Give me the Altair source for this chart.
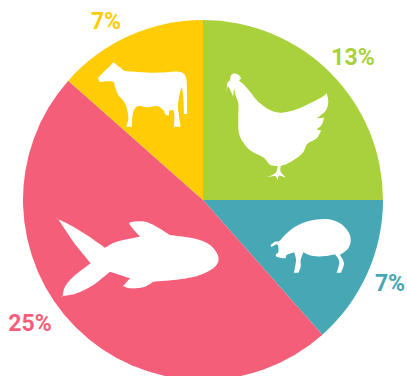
import altair as alt
import pandas as pd

# Share of each protein source, clockwise from twelve o'clock
animals = ["Chicken", "Pig", "Fish", "Cow"]
shares = [13, 7, 25, 7]
colors = ["#A9D13B", "#47A8B5", "#F45E78", "#FFCC05"]

W, H = 407, 376
CENTER = (203, 200)
RADIUS = 180


def outline(points, ox, oy):
    """Closed Catmull-Rom SVG path through a traced outline; a repeated point stays a sharp corner."""
    pts = [(ox + x / 3, oy + y / 3) for x, y in points]
    n = len(pts)
    parts = [f"M{pts[0][0]:.1f},{pts[0][1]:.1f}"]
    for i in range(n):
        p0, p1, p2, p3 = pts[i - 1], pts[i], pts[(i + 1) % n], pts[(i + 2) % n]
        c1 = (p1[0] + (p2[0] - p0[0]) / 6, p1[1] + (p2[1] - p0[1]) / 6)
        c2 = (p2[0] - (p3[0] - p1[0]) / 6, p2[1] - (p3[1] - p1[1]) / 6)
        parts.append(f"C{c1[0]:.1f},{c1[1]:.1f} {c2[0]:.1f},{c2[1]:.1f} {p2[0]:.1f},{p2[1]:.1f}")
    return "".join(parts) + "Z"


cow = outline([
    (144, 113), (144, 113), (165, 92), (178, 80), (190, 67), (190, 67), (210, 82), (225, 93), (255, 95), (300, 98),
    (350, 97), (385, 95), (403, 103), (410, 125), (411, 180), (411, 222), (411, 222), (402, 222), (402, 222),
    (400, 175), (396, 140), (396, 140), (388, 165), (384, 200), (388, 235), (392, 260), (392, 260), (372, 260),
    (372, 260), (372, 215), (358, 212), (356, 226), (345, 222), (340, 210), (320, 198), (290, 202), (265, 198),
    (250, 215), (245, 260), (245, 260), (229, 260), (229, 260), (235, 230), (225, 190), (205, 165), (195, 140),
    (190, 125), (170, 124), (150, 125),
], 50, 40)

chicken = outline([
    (70, 41), (85, 44), (93, 55), (88, 62), (100, 72), (120, 95), (145, 125), (180, 150), (215, 158), (260, 148),
    (300, 130), (335, 112), (350, 100), (350, 100), (355, 125), (347, 152), (320, 175), (320, 175), (342, 173),
    (342, 173), (335, 195), (320, 208), (320, 208), (333, 212), (333, 212), (320, 235), (292, 252), (277, 280),
    (240, 307), (212, 318), (212, 318), (212, 335), (228, 353), (228, 353), (208, 347), (203, 360), (203, 360),
    (195, 348), (172, 352), (172, 352), (197, 338), (203, 318), (203, 318), (180, 314), (160, 292), (122, 272),
    (98, 245), (86, 215), (85, 175), (85, 130), (78, 110), (72, 85), (72, 85), (70, 110), (70, 110), (55, 80),
    (50, 95), (50, 95), (52, 70), (60, 60), (62, 48),
], 210, 60)

pig = outline([
    (32, 120), (32, 120), (45, 110), (58, 108), (75, 90), (105, 65), (150, 47), (200, 42), (240, 55), (265, 80),
    (272, 105), (265, 130), (240, 150), (240, 150), (252, 175), (243, 203), (243, 203), (230, 203), (230, 203),
    (238, 170), (225, 148), (225, 148), (190, 154), (155, 152), (130, 142), (130, 142), (122, 165), (122, 185),
    (115, 203), (115, 203), (102, 203), (102, 203), (108, 165), (102, 142), (102, 142), (80, 150), (75, 160),
    (50, 155), (48, 148), (55, 142), (55, 125), (50, 118), (35, 125),
], 260, 205)

fish = outline([
    (25, 28), (25, 28), (60, 45), (110, 75), (165, 113), (165, 113), (200, 95), (270, 80), (270, 80), (240, 45),
    (245, 36), (285, 35), (320, 50), (360, 75), (360, 75), (430, 85), (480, 105), (505, 140), (495, 170), (450, 195),
    (390, 208), (310, 215), (310, 215), (280, 232), (240, 235), (220, 228), (220, 228), (240, 205), (240, 205),
    (180, 185), (180, 185), (130, 225), (80, 250), (38, 258), (38, 258), (45, 230), (70, 200), (122, 160), (122, 160),
    (70, 95),
], 50, 210)

pie_data = pd.DataFrame({"animal": animals, "share": shares, "rank": range(len(animals))})

pie = alt.Chart(pie_data).mark_arc(radius=RADIUS).encode(
    theta=alt.Theta("share:Q", stack=True),
    order=alt.Order("rank:Q"),
    color=alt.Color("animal:N", scale=alt.Scale(domain=animals, range=colors), legend=None),
    x=alt.value(CENTER[0]),
    y=alt.value(CENTER[1]),
)

anchor = alt.Chart(pd.DataFrame({"a": [0]}))

# Animal silhouettes: size 4 keeps the symbol path at one unit per pixel
icons = [
    anchor.mark_point(shape=path, size=4, filled=True, fill="#FFFFFF", opacity=1, strokeWidth=0).encode(
        x=alt.value(0), y=alt.value(0)
    )
    for path in (chicken, pig, fish, cow)
]

# Percentage labels outside the rim
label_spots = [(353, 58), (390, 284), (30, 324), (106, 22)]
labels = [
    anchor.mark_text(
        text=f"{share}%", color=color, font="Roboto", fontWeight="bold", fontSize=23,
        align="center", baseline="middle",
    ).encode(x=alt.value(spot[0]), y=alt.value(spot[1]))
    for share, color, spot in zip(shares, colors, label_spots)
]

chart = alt.layer(pie, *icons, *labels).properties(
    width=W, height=H, padding=0, autosize=alt.AutoSizeParams(type="none"), background="#FFFFFF"
).configure_view(strokeWidth=0)

chart.save("out.html", embed_options={"renderer": "svg", "actions": False})
